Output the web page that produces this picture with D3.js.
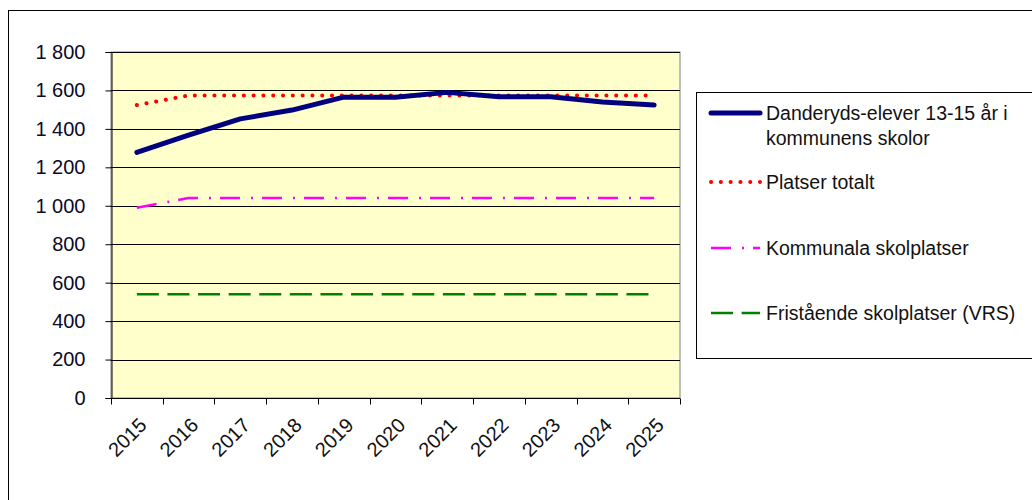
<!DOCTYPE html>
<html>
<head>
<meta charset="utf-8">
<script src="https://cdn.jsdelivr.net/npm/d3@7"></script>
<style>
  body { margin: 0; background: #fff; }
  svg { display: block; font-family: "Liberation Sans", Arial, sans-serif; }
</style>
</head>
<body>
<svg id="chart" width="1032" height="500"></svg>
<script>
// Data
const years = ['2015', '2016', '2017', '2018', '2019', '2020', '2021', '2022', '2023', '2024', '2025'];
const elever = [1278, 1368, 1452, 1498, 1565, 1565, 1590, 1567, 1567, 1540, 1524];
const platserTotalt = [1524, 1574, 1574, 1574, 1574, 1574, 1574, 1574, 1574, 1574, 1574];
const kommunala = [990, 1040, 1040, 1040, 1040, 1040, 1040, 1040, 1040, 1040, 1040];
const fristaende = [540, 540, 540, 540, 540, 540, 540, 540, 540, 540, 540];
const yTicks = [0, 200, 400, 600, 800, 1000, 1200, 1400, 1600, 1800];

const series = [
  { name: ['Danderyds-elever 13-15 år i', 'kommunens skolor'], values: elever,
    color: '#000080', width: 5, dash: null, cap: 'round', legendY: 113 },
  { name: ['Platser totalt'], values: platserTotalt,
    color: '#ff0000', width: 4, dash: '0.1 9.7', cap: 'round', legendY: 182 },
  { name: ['Kommunala skolplatser'], values: kommunala,
    color: '#ff00ff', width: 2.5, dash: '20 11 2 9', cap: 'butt', legendY: 248 },
  { name: ['Fristående skolplatser (VRS)'], values: fristaende,
    color: '#008000', width: 2.5, dash: '22 8.6', cap: 'butt', legendY: 313 },
];

const svg = d3.select('#chart');
const plot = { left: 111, right: 680, top: 52, bottom: 398 };

// outer chart frame
svg.append('rect')
  .attr('x', 8.5).attr('y', 10.5)
  .attr('width', 1040).attr('height', 520)
  .attr('fill', '#fff').attr('stroke', '#000').attr('stroke-width', 1);

const x = d3.scaleBand().domain(years).range([plot.left, plot.right]);
const y = d3.scaleLinear().domain([0, 1800]).range([plot.bottom, plot.top]);

// plot area
svg.append('rect')
  .attr('x', plot.left).attr('y', plot.top)
  .attr('width', plot.right - plot.left).attr('height', plot.bottom - plot.top)
  .attr('fill', '#ffffcc').attr('stroke', '#808080').attr('stroke-width', 1);

// gridlines
svg.append('g')
  .selectAll('line')
  .data(yTicks.filter(d => d > 0))
  .join('line')
  .attr('x1', plot.left).attr('x2', plot.right)
  .attr('y1', d => Math.round(y(d)) + 0.5).attr('y2', d => Math.round(y(d)) + 0.5)
  .attr('stroke', '#000').attr('stroke-width', 1);

// y axis
const yAxis = svg.append('g')
  .attr('transform', `translate(${plot.left + 0.5},0)`)
  .call(d3.axisLeft(y).tickValues(yTicks).tickSize(6).tickPadding(20)
    .tickFormat(d => d3.format(',')(d).replace(',', ' ')));
yAxis.select('.domain').attr('stroke', '#000');
yAxis.selectAll('.tick line').attr('stroke', '#000');
yAxis.selectAll('.tick text')
  .attr('font-size', 20).attr('fill', '#0a0a2a')
  .attr('font-family', '"Liberation Sans", Arial, sans-serif');

// x axis with ticks at category boundaries
const xAxis = svg.append('g')
  .attr('transform', `translate(0,${plot.bottom + 0.5})`);
xAxis.append('line')
  .attr('x1', plot.left).attr('x2', plot.right)
  .attr('stroke', '#000');
xAxis.selectAll('.tk')
  .data(years.map(d => x(d)).concat([plot.right]))
  .join('line')
  .attr('class', 'tk')
  .attr('x1', d => Math.round(d) + 0.5).attr('x2', d => Math.round(d) + 0.5)
  .attr('y1', 0).attr('y2', 6)
  .attr('stroke', '#000');
xAxis.selectAll('text')
  .data(years)
  .join('text')
  .attr('transform', d => `translate(${x(d) + x.bandwidth() / 2 + 11},${28}) rotate(-45)`)
  .attr('text-anchor', 'end')
  .attr('font-size', 20)
  .attr('fill', '#111')
  .text(d => d);

// lines
const line = vals => d3.line()
  .x((d, i) => x(years[i]) + x.bandwidth() / 2)
  .y(d => y(d))(vals);

svg.append('g')
  .selectAll('path')
  .data(series.slice().reverse())
  .join('path')
  .attr('d', d => line(d.values))
  .attr('fill', 'none')
  .attr('stroke', d => d.color)
  .attr('stroke-width', d => d.width)
  .attr('stroke-dasharray', d => d.dash)
  .attr('stroke-linecap', d => d.cap)
  .attr('stroke-linejoin', 'round');

// legend
const lg = svg.append('g');
lg.append('rect')
  .attr('x', 696.5).attr('y', 92.5)
  .attr('width', 400).attr('height', 266)
  .attr('fill', '#fff').attr('stroke', '#000').attr('stroke-width', 1);

const item = lg.selectAll('g.item')
  .data(series)
  .join('g')
  .attr('class', 'item');
item.append('line')
  .attr('x1', 711).attr('x2', 760)
  .attr('y1', d => d.legendY).attr('y2', d => d.legendY)
  .attr('stroke', d => d.color)
  .attr('stroke-width', d => d.width)
  .attr('stroke-dasharray', d => d.dash)
  .attr('stroke-linecap', d => d.cap);
item.append('text')
  .attr('x', 766)
  .attr('y', d => d.legendY + 7)
  .attr('font-size', 19.5)
  .attr('fill', '#111')
  .selectAll('tspan')
  .data(d => d.name)
  .join('tspan')
  .attr('x', 766)
  .attr('dy', (d, i) => i === 0 ? 0 : 25)
  .text(d => d);
</script>
</body>
</html>
